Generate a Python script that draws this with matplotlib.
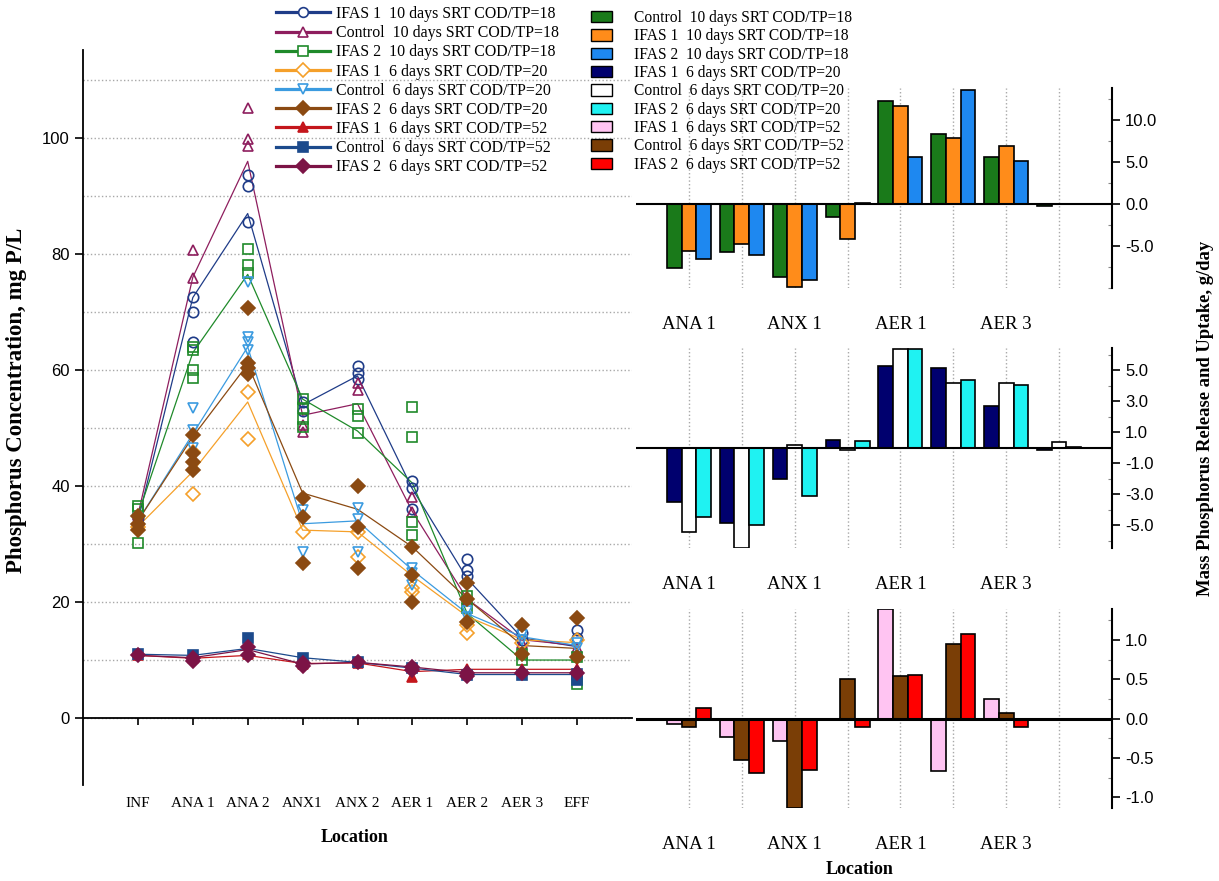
import numpy as np
import matplotlib.pyplot as plt
from matplotlib.lines import Line2D
from matplotlib.patches import Patch
from matplotlib.ticker import MultipleLocator, FixedLocator

SERIF = ['Liberation Serif', 'DejaVu Serif']
SANS = ['Liberation Sans', 'DejaVu Sans']

# ---- left panel: P concentration along the train ----
locations = ['INF', 'ANA 1', 'ANA 2', 'ANX1', 'ANX 2', 'AER 1', 'AER 2', 'AER 3', 'EFF']

line_labels = ['IFAS 1  10 days SRT COD/TP=18',
               'Control  10 days SRT COD/TP=18',
               'IFAS 2  10 days SRT COD/TP=18',
               'IFAS 1  6 days SRT COD/TP=20',
               'Control  6 days SRT COD/TP=20',
               'IFAS 2  6 days SRT COD/TP=20',
               'IFAS 1  6 days SRT COD/TP=52',
               'Control  6 days SRT COD/TP=52',
               'IFAS 2  6 days SRT COD/TP=52']

# averaged profiles (lines)
ifas1_10_mean = [34, 72.5, 87, 54, 59, 39.5, 24, 13.8, 12.3]
control_10_mean = [35, 76, 96, 52.2, 54.2, 35.6, 20.5, 13.5, 12.5]
ifas2_10_mean = [35, 63, 76.5, 55, 49.5, 40.5, 18, 10, 10]
ifas1_20_mean = [33, 42.5, 54.5, 32.4, 32.1, 24.5, 17.5, 13.5, 13]
control_20_mean = [34, 49, 64, 33.5, 34, 25.5, 18, 14, 12.5]
ifas2_20_mean = [34, 48.5, 61, 38.8, 36, 29.5, 20.5, 12.5, 12]
ifas1_52_mean = [10.8, 10.3, 10.8, 9.4, 9.5, 8.0, 8.4, 8.4, 8.4]
control_52_mean = [11, 10.8, 12, 10.4, 9.6, 8.6, 7.5, 7.5, 7.5]
ifas2_52_mean = [10.8, 10.4, 11.8, 9.3, 9.6, 8.8, 7.8, 7.8, 7.8]

# individual samples at each location
ifas1_10_pts = [[34.5, 33.5], [72.6, 70, 64.9], [93.6, 91.7, 85.6], [54.5, 53.0],
                [60.7, 59.5, 58.5], [40.9, 39.7, 36.0], [27.5, 25.5, 24.5], [14.6, 13.4], [15.2, 13.8]]
control_10_pts = [[35], [80.7, 75.8], [105.2, 99.9, 98.6], [50.5, 49.4], [57.7, 56.5],
                  [38.2, 35.6], [20.5], [13], [12]]
ifas2_10_pts = [[36.5, 36.0, 30.2], [64, 63.4, 60, 58.6], [80.8, 78.1, 76.7], [55.1, 53.5, 51.5, 50.2],
                [53.3, 52, 49.2], [53.6, 48.5, 33.8, 31.5], [21, 19], [11, 10], [10.5, 5.9]]
ifas1_20_pts = [[33], [45.9, 38.6], [56.3, 48.2], [32.1], [32.1, 27.8], [22.5, 21.8],
                [14.6, 16.0], [13], [13.5]]
control_20_pts = [[34.5], [53.4, 49.6, 46.5], [75.2, 65.7, 64.9, 63.4], [35.9, 28.7],
                  [36.2, 34.3, 28.7], [25.9, 25, 22.9], [18.5, 17.5], [14.3, 13.5], [13, 12]]
ifas2_20_pts = [[34.8, 33.4, 32.4], [48.8, 45.7, 44.2, 42.8], [70.7, 61.2, 60.3, 59.4],
                [37.9, 34.7, 26.8], [40, 33, 25.9], [29.5, 24.7, 20], [23.3, 20.5, 16.5],
                [16, 11], [17.2, 10.5]]
ifas1_52_pts = [[10.8], [10.3], [11], [9.3], [9.5], [7.0], [8.4], [8.4], [8.4]]
control_52_pts = [[11], [10.8], [13.8], [10.4], [9.6], [8.6], [7.5], [7.5], [7.6, 6.6]]
ifas2_52_pts = [[10.8], [10.4, 9.8], [12.3, 10.8], [9.5, 9.0], [9.6], [8.8, 8.3],
                [7.8, 7.2], [7.8], [7.8]]

means = [ifas1_10_mean, control_10_mean, ifas2_10_mean, ifas1_20_mean, control_20_mean,
         ifas2_20_mean, ifas1_52_mean, control_52_mean, ifas2_52_mean]
points = [ifas1_10_pts, control_10_pts, ifas2_10_pts, ifas1_20_pts, control_20_pts,
          ifas2_20_pts, ifas1_52_pts, control_52_pts, ifas2_52_pts]

# colour, marker, filled
line_styles = [('#1f3c88', 'o', False), ('#8e1e5e', '^', False), ('#1f8a2a', 's', False),
               ('#f5a02a', 'D', False), ('#3b9be0', 'v', False), ('#8b4a12', 'D', True),
               ('#c4161c', '^', True), ('#1c4a8c', 's', True), ('#7c1446', 'D', True)]

# ---- right panels: mass release / uptake per zone ----
zones = ['ANA 1', 'ANA 2', 'ANX 1', 'ANX 2', 'AER 1', 'AER 2', 'AER 3', 'EFF']
zone_labels = ['ANA 1', '', 'ANX 1', '', 'AER 1', '', 'AER 3', '']

bar_labels_10 = ['Control  10 days SRT COD/TP=18', 'IFAS 1  10 days SRT COD/TP=18',
                 'IFAS 2  10 days SRT COD/TP=18']
bar_labels_20 = ['IFAS 1  6 days SRT COD/TP=20', 'Control  6 days SRT COD/TP=20',
                 'IFAS 2  6 days SRT COD/TP=20']
bar_labels_52 = ['IFAS 1  6 days SRT COD/TP=52', 'Control  6 days SRT COD/TP=52',
                 'IFAS 2  6 days SRT COD/TP=52']

control_10 = [-7.6, -5.65, -8.6, -1.5, 12.3, 8.4, 5.6, -0.2]
ifas1_10 = [-5.6, -4.7, -9.9, -4.15, 11.7, 7.9, 6.9, 0.0]
ifas2_10 = [-6.5, -6.0, -9.0, 0.2, 5.6, 13.6, 5.1, 0.0]

ifas1_20 = [-3.5, -4.85, -2.0, 0.5, 5.27, 5.16, 2.7, -0.15]
control_20 = [-5.45, -6.45, 0.17, -0.17, 6.37, 4.15, 4.15, 0.37]
ifas2_20 = [-4.5, -5.0, -3.1, 0.39, 6.37, 4.34, 4.02, 0.06]

ifas1_52 = [-0.07, -0.23, -0.29, 0.0, 1.39, -0.67, 0.25, 0.0]
control_52 = [-0.11, -0.52, -1.13, 0.51, 0.54, 0.95, 0.07, 0.0]
ifas2_52 = [0.13, -0.69, -0.65, -0.11, 0.55, 1.08, -0.11, 0.0]

bar_colors_10 = ['#1a7a1a', '#ff8c1a', '#1e88f0']
bar_colors_20 = ['#00006e', '#ffffff', '#1ff2f2']
bar_colors_52 = ['#ffc4f2', '#7a3e06', '#ff0000']

fig = plt.figure(figsize=(12.19, 8.81), dpi=100)
W, H = 1219, 881


def rect(x0, y0, x1, y1):
    return [x0 / W, 1 - y1 / H, (x1 - x0) / W, (y1 - y0) / H]


# left line chart
ax = fig.add_axes(rect(83, 50, 632, 784.7))
x = np.arange(1, len(locations) + 1)
for mean, pts, (col, mk, filled) in zip(means, points, line_styles):
    ax.plot(x, mean, color=col, lw=0.9, zorder=3)
    for xi, vals in zip(x, pts):
        ax.plot([xi] * len(vals), vals, ls='none', marker=mk, ms=7.5, mew=1.2,
                mec=col, mfc=col if filled else 'none', zorder=4)

ax.set_xlim(0, 10)
ax.set_ylim(-11.5, 115.2)
ax.spines['top'].set_visible(False)
ax.spines['right'].set_visible(False)
ax.spines['bottom'].set_position(('data', 0))
ax.spines['bottom'].set_linewidth(1.3)
ax.spines['left'].set_linewidth(1.3)
ax.set_xticks(x)
ax.set_xticklabels(locations, fontsize=11, family=SERIF)
ax.tick_params(axis='x', direction='out', length=5, width=1.2, pad=52)
ax.set_yticks(np.arange(0, 101, 20))
ax.set_yticklabels([str(v) for v in range(0, 101, 20)], fontsize=12, family=SANS)
ax.yaxis.set_minor_locator(FixedLocator(np.arange(10, 111, 20)))
ax.tick_params(axis='y', which='major', direction='out', length=6, width=1.2)
ax.tick_params(axis='y', which='minor', length=0)
ax.grid(axis='y', which='both', ls=':', color='#a8a8a8', lw=1)
ax.set_axisbelow(True)

fig.text(17 / W, 1 - 400 / H, 'Phosphorus Concentration, mg P/L', rotation=90,
         ha='center', va='center', fontsize=16.5, fontweight='bold', family=SERIF)
fig.text(355 / W, 1 - 838 / H, 'Location', ha='center', va='center',
         fontsize=13, fontweight='bold', family=SERIF)

handles = [Line2D([], [], color=c, lw=2.3, marker=m, ms=7, mew=1.2, mec=c,
                  mfc=c if f else 'white') for c, m, f in line_styles]
fig.legend(handles, line_labels, loc='upper left', bbox_to_anchor=(276 / W, 1 - 6 / H),
           frameon=False, prop={'family': SERIF, 'size': 11.4}, handlelength=3.4,
           handletextpad=0.4, labelspacing=0.2, borderpad=0, borderaxespad=0)

# right bar charts
panels = [
    (rect(636, 88.3, 1112, 288.3), (-10, 13.8), [control_10, ifas1_10, ifas2_10], bar_colors_10,
     [-5, 0, 5, 10], 2.5, '%.1f', 1.5),
    (rect(636, 348.3, 1112, 548.3), (-6.5, 6.4), [ifas1_20, control_20, ifas2_20], bar_colors_20,
     [-5, -3, -1, 1, 3, 5], 1.0, '%.1f', 1.5),
    (rect(636, 609.3, 1112, 808.3), (-1.14, 1.39), [ifas1_52, control_52, ifas2_52], bar_colors_52,
     [-1, -0.5, 0, 0.5, 1], 0.25, '%.1f', 2.2),
]
gx = np.arange(1, len(zones) + 1)
bw = 0.278
for r, ylim, groups, cols, majors, minor, fmt, zlw in panels:
    bx = fig.add_axes(r)
    for k, (vals, c) in enumerate(zip(groups, cols)):
        bx.bar(gx + (k - 1) * bw, vals, width=bw, color=c, edgecolor='black', lw=1.2, zorder=3)
    bx.axhline(0, color='black', lw=zlw, zorder=4)
    bx.set_xlim(0, 9)
    bx.set_ylim(*ylim)
    for s in ('left', 'top', 'bottom'):
        bx.spines[s].set_visible(False)
    bx.spines['right'].set_linewidth(1.5)
    bx.yaxis.tick_right()
    bx.set_yticks(majors)
    bx.set_yticklabels([fmt % v for v in majors], fontsize=12, family=SANS)
    bx.yaxis.set_minor_locator(MultipleLocator(minor))
    bx.tick_params(axis='y', which='major', direction='out', length=6, width=1.2)
    bx.tick_params(axis='y', which='minor', direction='in', length=3, width=0.8, color='#888888')
    bx.set_xticks(gx)
    bx.set_xticklabels(zone_labels, fontsize=13.5, family=SERIF)
    bx.tick_params(axis='x', length=0, pad=20)
    bx.grid(axis='x', ls=':', color='#a8a8a8', lw=1)
    bx.set_axisbelow(True)
    bx.patch.set_alpha(0)

fig.text(1205 / W, 1 - 418 / H, 'Mass Phosphorus Release and Uptake, g/day', rotation=90,
         ha='center', va='center', fontsize=13.4, fontweight='bold', family=SERIF)
fig.text(860 / W, 1 - 870 / H, 'Location', ha='center', va='center',
         fontsize=13, fontweight='bold', family=SERIF)

bar_handles = [Patch(facecolor=c, edgecolor='black', lw=1)
               for c in bar_colors_10 + bar_colors_20 + bar_colors_52]
fig.legend(bar_handles, bar_labels_10 + bar_labels_20 + bar_labels_52, loc='upper left',
           bbox_to_anchor=(591 / W, 1 - 10 / H), frameon=False,
           prop={'family': SERIF, 'size': 11.2}, handlelength=1.35, handleheight=0.75,
           handletextpad=1.4, labelspacing=0.15, borderpad=0, borderaxespad=0)

fig.savefig('out.png', dpi=100)
